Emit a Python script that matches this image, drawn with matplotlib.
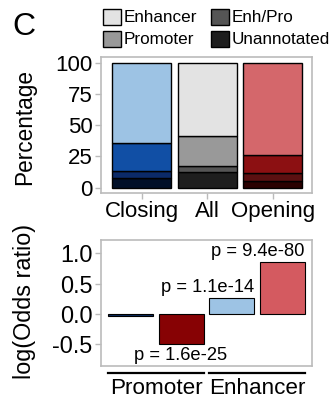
import numpy as np
import matplotlib
matplotlib.use("Agg")
import matplotlib.pyplot as plt
from matplotlib.patches import Rectangle

plt.rcParams['font.family'] = ['Liberation Sans', 'DejaVu Sans']

# stacked composition (percent), bottom to top
groups = ['Closing', 'All', 'Opening']
categories = ['Unannotated', 'Enh/Pro', 'Promoter', 'Enhancer']
unannotated = [7.5, 12.2, 5.3]
enh_pro = [5.5, 5.3, 6.2]
promoter = [22.6, 23.9, 14.3]
enhancer = [64.4, 58.6, 74.2]

stack_colors = {
    'Closing': ['#000f28', '#0b2a68', '#114fa5', '#9dc3e4'],
    'All': ['#1e1e1e', '#555555', '#999999', '#e3e3e3'],
    'Opening': ['#2a0101', '#5b1011', '#8c1012', '#d4676b'],
}

# log odds ratios
or_values = [-0.03, -0.49, 0.27, 0.855]
or_colors = ['#0b2a5e', '#870204', '#9dc3e4', '#d45a60']
p_labels = ['p = 1.6e-25', 'p = 1.1e-14', 'p = 9.4e-80']
p_pos = [(1.99, -0.68), (2.53, 0.44), (3.52, 1.03)]
bottom_groups = ['Promoter', 'Enhancer']

W, H = 332, 401
fig = plt.figure(figsize=(W / 100, H / 100), dpi=100)

frame_col = '#bbbbbb'

def style(ax, size):
    for s in ax.spines.values():
        s.set_color(frame_col)
        s.set_linewidth(1.2)
    ax.tick_params(colors=frame_col, labelcolor='black', length=4, width=1.0, labelsize=size, pad=2)

# top panel
ax1 = fig.add_axes([101 / W, (H - 193) / H, 211 / W, 136 / H])
data = np.array([unannotated, enh_pro, promoter, enhancer])
x = np.arange(1, 4)
for i, g in enumerate(groups):
    bottom = 0
    for j in range(len(categories)):
        ax1.bar(x[i], data[j, i], bottom=bottom, width=0.9, color=stack_colors[g][j],
                edgecolor='black', linewidth=1.0)
        bottom += data[j, i]
ax1.set_xlim(0.38, 3.6)
ax1.set_ylim(-4.2, 104.5)
ax1.set_yticks([0, 25, 50, 75, 100])
ax1.set_xticks(x)
ax1.set_xticklabels(groups)
style(ax1, 16)
ax1.tick_params(axis='x', labelsize=16, pad=2)
fig.text(25 / W, 1 - 127 / H, 'Percentage', rotation=90, ha='center', va='center', fontsize=16.3)

# legend
leg_items = [('Enhancer', '#e3e3e3', 103, 17), ('Enh/Pro', '#555555', 211, 17),
             ('Promoter', '#999999', 103, 39), ('Unannotated', '#1e1e1e', 211, 39)]
for name, col, px, py in leg_items:
    fig.patches.append(Rectangle((px / W, 1 - (py + 8) / H), 18 / W, 16 / H,
                                 transform=fig.transFigure, facecolor=col,
                                 edgecolor='black', linewidth=1.0))
    fig.text((px + 20.5) / W, 1 - py / H, name, ha='left', va='center', fontsize=12.3)
fig.text(12 / W, 1 - 27 / H, 'C', ha='left', va='center', fontsize=23)

# bottom panel
ax2 = fig.add_axes([101 / W, 35 / H, 211 / W, 126 / H])
x2 = np.arange(1, 5)
ax2.bar(x2, or_values, width=0.9, color=or_colors, edgecolor='black', linewidth=0.8)
for lab, (px, py) in zip(p_labels, p_pos):
    ax2.text(px, py, lab, ha='center', va='center', fontsize=13.2)
ax2.set_xlim(0.41, 4.59)
ax2.set_ylim(-0.86, 1.22)
ax2.set_yticks([-0.5, 0.0, 0.5, 1.0])
ax2.set_yticklabels(['-0.5', '0.0', '0.5', '1.0'])
ax2.set_xticks([])
style(ax2, 16.8)
fig.text(25 / W, 1 - 301 / H, 'log(Odds ratio)', rotation=90, ha='center', va='center', fontsize=16.8)

# group lines and labels under bottom panel
for (x0, x1), name in zip([(108, 204), (209, 305)], bottom_groups):
    fig.add_artist(plt.Line2D([x0 / W, x1 / W], [1 - 373 / H, 1 - 373 / H],
                              color='black', linewidth=1.6))
    fig.text((x0 + x1) / 2 / W, 1 - 389 / H, name, ha='center', va='center', fontsize=16.2)

fig.savefig('out.png', dpi=100)
